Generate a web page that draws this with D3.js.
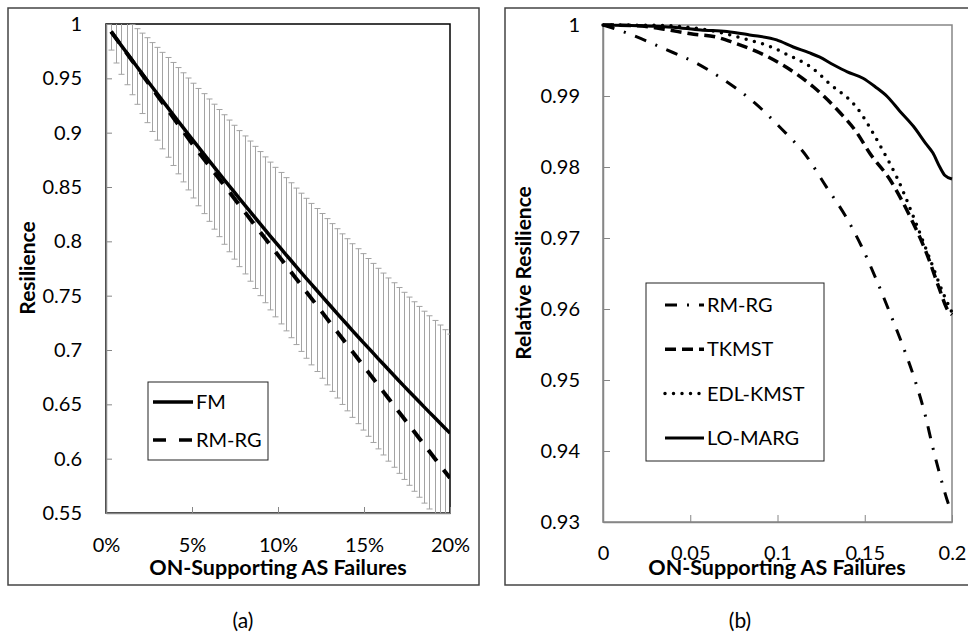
<!DOCTYPE html>
<html lang="en">
<head>
<meta charset="utf-8">
<title>Resilience under ON-supporting AS failures</title>
<style>
  body { margin: 0; background: #fff; }
  text { font-family: Lato, "Open Sans", sans-serif; fill: #000; }
</style>
</head>
<body>
<script src="https://cdn.jsdelivr.net/npm/d3@7/dist/d3.min.js"></script>
<script>
// ---- panel (a) data ----
var totalAS = 335;
var failedAS = [1,2,3,4,5,6,7,8,9,10,11,12,13,14,15,16,17,18,19,20,21,22,23,24,25,26,27,28,29,30,31,32,33,34,
    35,36,37,38,39,40,41,42,43,44,45,46,47,48,49,50,51,52,53,54,55,56,57,58,59,60,61,62,63,64,65,66,67];
var fmMean = [0.993,0.9865,0.9801,0.9737,0.9673,0.9609,0.9546,0.9483,0.942,0.9358,0.9295,0.9233,0.9172,0.911,
    0.9049,0.8988,0.8927,0.8867,0.8807,0.8747,0.8687,0.8628,0.8569,0.851,0.8452,0.8393,0.8335,0.8278,0.822,0.8163,
    0.8106,0.8049,0.7993,0.7937,0.7881,0.7826,0.777,0.7715,0.766,0.7606,0.7552,0.7498,0.7444,0.7391,0.7337,0.7284,
    0.7232,0.7179,0.7127,0.7075,0.7024,0.6973,0.6921,0.6871,0.682,0.677,0.672,0.667,0.6621,0.6572,0.6523,0.6474,
    0.6426,0.6378,0.633,0.6282,0.6235];
var fmErr = [0.017,0.0224,0.0264,0.0296,0.0324,0.0348,0.037,0.0391,0.0409,0.0427,0.0444,0.0459,0.0474,0.0489,
    0.0502,0.0515,0.0528,0.054,0.0552,0.0563,0.0575,0.0585,0.0596,0.0606,0.0616,0.0626,0.0635,0.0645,0.0654,0.0663,
    0.0671,0.068,0.0688,0.0697,0.0705,0.0713,0.072,0.0728,0.0736,0.0743,0.075,0.0758,0.0765,0.0772,0.0779,0.0785,
    0.0792,0.0799,0.0805,0.0812,0.0818,0.0824,0.0831,0.0837,0.0843,0.0849,0.0855,0.0861,0.0866,0.0872,0.0878,0.0883,
    0.0889,0.0894,0.09,0.0905,0.0911];
var rmrgA = [0.993,0.9865,0.98,0.9734,0.9669,0.9603,0.9538,0.9473,0.9407,0.9342,0.9277,0.9211,0.9146,0.908,
    0.9015,0.895,0.8885,0.8823,0.8762,0.8701,0.864,0.8578,0.8517,0.8456,0.8394,0.8333,0.8272,0.8211,0.8149,0.8088,
    0.8027,0.7965,0.7904,0.7843,0.7782,0.772,0.7659,0.7598,0.7536,0.7475,0.7414,0.7353,0.7291,0.723,0.7169,0.7108,
    0.7046,0.6985,0.6924,0.6862,0.6801,0.674,0.6678,0.6617,0.6556,0.6495,0.6433,0.6372,0.6311,0.625,0.6188,0.6127,
    0.6066,0.6004,0.5943,0.5882,0.5821];
var pctTicks = [0, 0.05, 0.1, 0.15, 0.2];
var resTicksA = [0.55, 0.6, 0.65, 0.7, 0.75, 0.8, 0.85, 0.9, 0.95, 1];

// ---- panel (b) data ----
var rmrgBx = [0,0.0155,0.0346,0.0537,0.0709,0.0871,0.1014,0.1167,0.128,0.1387,0.1482,0.1567,0.1645,0.172,0.179,
    0.1845,0.189,0.194,0.198,0.1995];
var rmrgBy = [1,0.9987,0.9967,0.9946,0.992,0.989,0.9856,0.9815,0.9772,0.9732,0.9688,0.9641,0.9594,0.9547,0.9498,
    0.9452,0.9405,0.9358,0.9325,0.9315];
var tkmstX = [0,0.02,0.035,0.052,0.065,0.075,0.093,0.106,0.1205,0.136,0.145,0.153,0.1645,0.176,0.1855,0.193,0.197,0.2];
var tkmstY = [1,0.9999,0.9994,0.9987,0.9983,0.9975,0.9957,0.9939,0.9913,0.9876,0.985,0.9819,0.9782,0.973,0.9678,
    0.9627,0.9601,0.9592];
var edlX = [0,0.03,0.06,0.082,0.092,0.0975,0.105,0.111,0.119,0.13,0.145,0.1606,0.1683,0.1798,0.1874,0.195,0.2];
var edlY = [1,0.99995,0.9993,0.998,0.9973,0.9968,0.9959,0.9952,0.9941,0.9917,0.9885,0.9822,0.9786,0.9718,0.967,
    0.9622,0.9595];
var lomargX = [0,0.02,0.04,0.056,0.071,0.084,0.0995,0.109,0.118,0.124,0.132,0.14,0.149,0.156,0.163,0.17,0.178,
    0.185,0.189,0.193,0.196,0.2];
var lomargY = [1,0.9999,0.9997,0.9993,0.9991,0.9986,0.9979,0.9969,0.9961,0.9955,0.9944,0.9934,0.9925,0.9913,
    0.9899,0.9879,0.9857,0.9833,0.982,0.98,0.9788,0.9783];
var fracTicks = [0, 0.05, 0.1, 0.15, 0.2];
var resTicksB = [0.93, 0.94, 0.95, 0.96, 0.97, 0.98, 0.99, 1];

var svg = d3.select("body").append("svg")
    .attr("width", 968)
    .attr("height", 635);

// outer frames of both charts
svg.append("rect").attr("x", 8).attr("y", 8).attr("width", 471).attr("height", 577)
    .attr("fill", "none").attr("stroke", "#444").attr("stroke-width", 1.5);
svg.append("rect").attr("x", 505).attr("y", 8).attr("width", 470).attr("height", 577)
    .attr("fill", "none").attr("stroke", "#444").attr("stroke-width", 1.5);

// =============== panel (a) ===============
var xA = d3.scaleLinear().domain([0, 0.2]).range([106, 450]);
var yA = d3.scaleLinear().domain([0.55, 1]).range([513, 24]);

svg.append("clipPath").attr("id", "clipA").append("rect")
    .attr("x", 106).attr("y", 24).attr("width", 344).attr("height", 489);

svg.append("rect").attr("x", 106).attr("y", 24).attr("width", 344).attr("height", 489)
    .attr("fill", "none").attr("stroke", "#000").attr("stroke-width", 1.5);

var ptsA = failedAS.map(function (n, i) {
    return {x: n / totalAS, fm: fmMean[i], err: fmErr[i], rm: rmrgA[i]};
});

var gErr = svg.append("g").attr("clip-path", "url(#clipA)")
    .attr("stroke", "#a3a3a3").attr("stroke-width", 1);
ptsA.forEach(function (d) {
    var x = Math.round(xA(d.x)) + 0.5;
    var y0 = yA(d.fm - d.err), y1 = yA(d.fm + d.err);
    gErr.append("line").attr("x1", x).attr("x2", x).attr("y1", y0).attr("y2", y1);
    gErr.append("line").attr("x1", x - 3).attr("x2", x + 3).attr("y1", y0).attr("y2", y0);
    gErr.append("line").attr("x1", x - 3).attr("x2", x + 3).attr("y1", y1).attr("y2", y1);
});

var axA = svg.append("g").attr("transform", "translate(106,0)")
    .call(d3.axisLeft(yA).tickValues(resTicksA).tickSize(-6).tickSizeOuter(0).tickPadding(24)
        .tickFormat(function (d) { return d3.format("")(+d.toFixed(2)); }));
var bxA = svg.append("g").attr("transform", "translate(0,513)")
    .call(d3.axisBottom(xA).tickValues(pctTicks).tickSize(-6).tickSizeOuter(0).tickPadding(25)
        .tickFormat(d3.format(".0%")));
[axA, bxA].forEach(function (g) {
    g.select(".domain").attr("stroke", "#868686").attr("stroke-width", 1.5);
    g.selectAll(".tick line").attr("stroke", "#868686");
    g.selectAll(".tick text").attr("font-size", 20).attr("font-family", "Lato, sans-serif").attr("fill", "#000");
});

var lineA = d3.line().x(function (d) { return xA(d[0]); }).y(function (d) { return yA(d[1]); });
var gLinesA = svg.append("g").attr("clip-path", "url(#clipA)").attr("fill", "none").attr("stroke", "#000");
gLinesA.append("path")
    .attr("d", lineA(ptsA.map(function (d) { return [d.x, d.rm]; })))
    .attr("stroke-width", 4).attr("stroke-dasharray", "14,11");
gLinesA.append("path")
    .attr("d", lineA(ptsA.map(function (d) { return [d.x, d.fm]; })))
    .attr("stroke-width", 3.5);

svg.append("text").attr("x", 278).attr("y", 575).attr("text-anchor", "middle")
    .attr("font-size", 21.5).attr("font-weight", "bold").text("ON-Supporting AS Failures");
svg.append("text").attr("transform", "translate(35,268) rotate(-90)").attr("text-anchor", "middle")
    .attr("font-size", 21).attr("font-weight", "bold").text("Resilience");

// legend (a)
var legA = svg.append("g");
legA.append("rect").attr("x", 148).attr("y", 382).attr("width", 120).attr("height", 78)
    .attr("fill", "#fff").attr("stroke", "#222").attr("stroke-width", 1);
[{name: "FM", dash: null}, {name: "RM-RG", dash: "13,13"}].forEach(function (s, i) {
    var y = 402 + i * 38;
    legA.append("line").attr("x1", 153).attr("x2", 193).attr("y1", y).attr("y2", y)
        .attr("stroke", "#000").attr("stroke-width", 3.5).attr("stroke-dasharray", s.dash);
    legA.append("text").attr("x", 196).attr("y", y + 7).attr("font-size", 20).text(s.name);
});

svg.append("text").attr("x", 243).attr("y", 628).attr("text-anchor", "middle")
    .attr("font-family", "'Liberation Sans', Arial, sans-serif").attr("font-size", 21).text("(a)");

// =============== panel (b) ===============
var xB = d3.scaleLinear().domain([0, 0.2]).range([603, 952]);
var yB = d3.scaleLinear().domain([0.93, 1]).range([522, 25]);

svg.append("clipPath").attr("id", "clipB").append("rect")
    .attr("x", 600).attr("y", 22).attr("width", 354).attr("height", 502);

svg.append("rect").attr("x", 603).attr("y", 25).attr("width", 349).attr("height", 497)
    .attr("fill", "none").attr("stroke", "#868686").attr("stroke-width", 1.5);

var ayB = svg.append("g").attr("transform", "translate(603,0)")
    .call(d3.axisLeft(yB).tickValues(resTicksB).tickSize(-7).tickSizeOuter(0).tickPadding(23)
        .tickFormat(function (d) { return d3.format("")(+d.toFixed(2)); }));
var bxB = svg.append("g").attr("transform", "translate(0,522)")
    .call(d3.axisBottom(xB).tickValues(fracTicks).tickSize(-7).tickSizeOuter(0).tickPadding(24)
        .tickFormat(function (d) { return d3.format("")(+d.toFixed(2)); }));
[ayB, bxB].forEach(function (g) {
    g.select(".domain").attr("stroke", "#868686").attr("stroke-width", 1.5);
    g.selectAll(".tick line").attr("stroke", "#868686");
    g.selectAll(".tick text").attr("font-size", 20).attr("font-family", "Lato, sans-serif").attr("fill", "#000");
});

var seriesB = [
    {name: "RM-RG", xs: rmrgBx, ys: rmrgBy, width: 3, dash: "12,10,2,10", cap: "butt"},
    {name: "TKMST", xs: tkmstX, ys: tkmstY, width: 3.5, dash: "11,6", cap: "butt"},
    {name: "EDL-KMST", xs: edlX, ys: edlY, width: 3.5, dash: "0,8.5", cap: "round"},
    {name: "LO-MARG", xs: lomargX, ys: lomargY, width: 3, dash: null, cap: "butt"}
];

var lineB = d3.line().curve(d3.curveMonotoneX)
    .x(function (d) { return xB(d[0]); }).y(function (d) { return yB(d[1]); });
var gLinesB = svg.append("g").attr("clip-path", "url(#clipB)").attr("fill", "none").attr("stroke", "#000");
seriesB.forEach(function (s) {
    gLinesB.append("path")
        .attr("d", lineB(s.xs.map(function (x, i) { return [x, s.ys[i]]; })))
        .attr("stroke-width", s.width).attr("stroke-dasharray", s.dash).attr("stroke-linecap", s.cap);
});

svg.append("text").attr("x", 777).attr("y", 575).attr("text-anchor", "middle")
    .attr("font-size", 21.5).attr("font-weight", "bold").text("ON-Supporting AS Failures");
svg.append("text").attr("transform", "translate(531,273) rotate(-90)").attr("text-anchor", "middle")
    .attr("font-size", 21).attr("font-weight", "bold").text("Relative Resilience");

// legend (b)
var legB = svg.append("g");
legB.append("rect").attr("x", 646).attr("y", 283).attr("width", 178).attr("height", 178)
    .attr("fill", "#fff").attr("stroke", "#222").attr("stroke-width", 1);
seriesB.forEach(function (s, i) {
    var y = 305 + i * 44.3;
    legB.append("line").attr("x1", 665).attr("x2", 704).attr("y1", y).attr("y2", y)
        .attr("stroke", "#000").attr("stroke-width", s.width)
        .attr("stroke-dasharray", s.dash).attr("stroke-linecap", s.cap);
    legB.append("text").attr("x", 707).attr("y", y + 7).attr("font-size", 20).text(s.name);
});

svg.append("text").attr("x", 740).attr("y", 628).attr("text-anchor", "middle")
    .attr("font-family", "'Liberation Sans', Arial, sans-serif").attr("font-size", 21).text("(b)");
</script>
</body>
</html>
